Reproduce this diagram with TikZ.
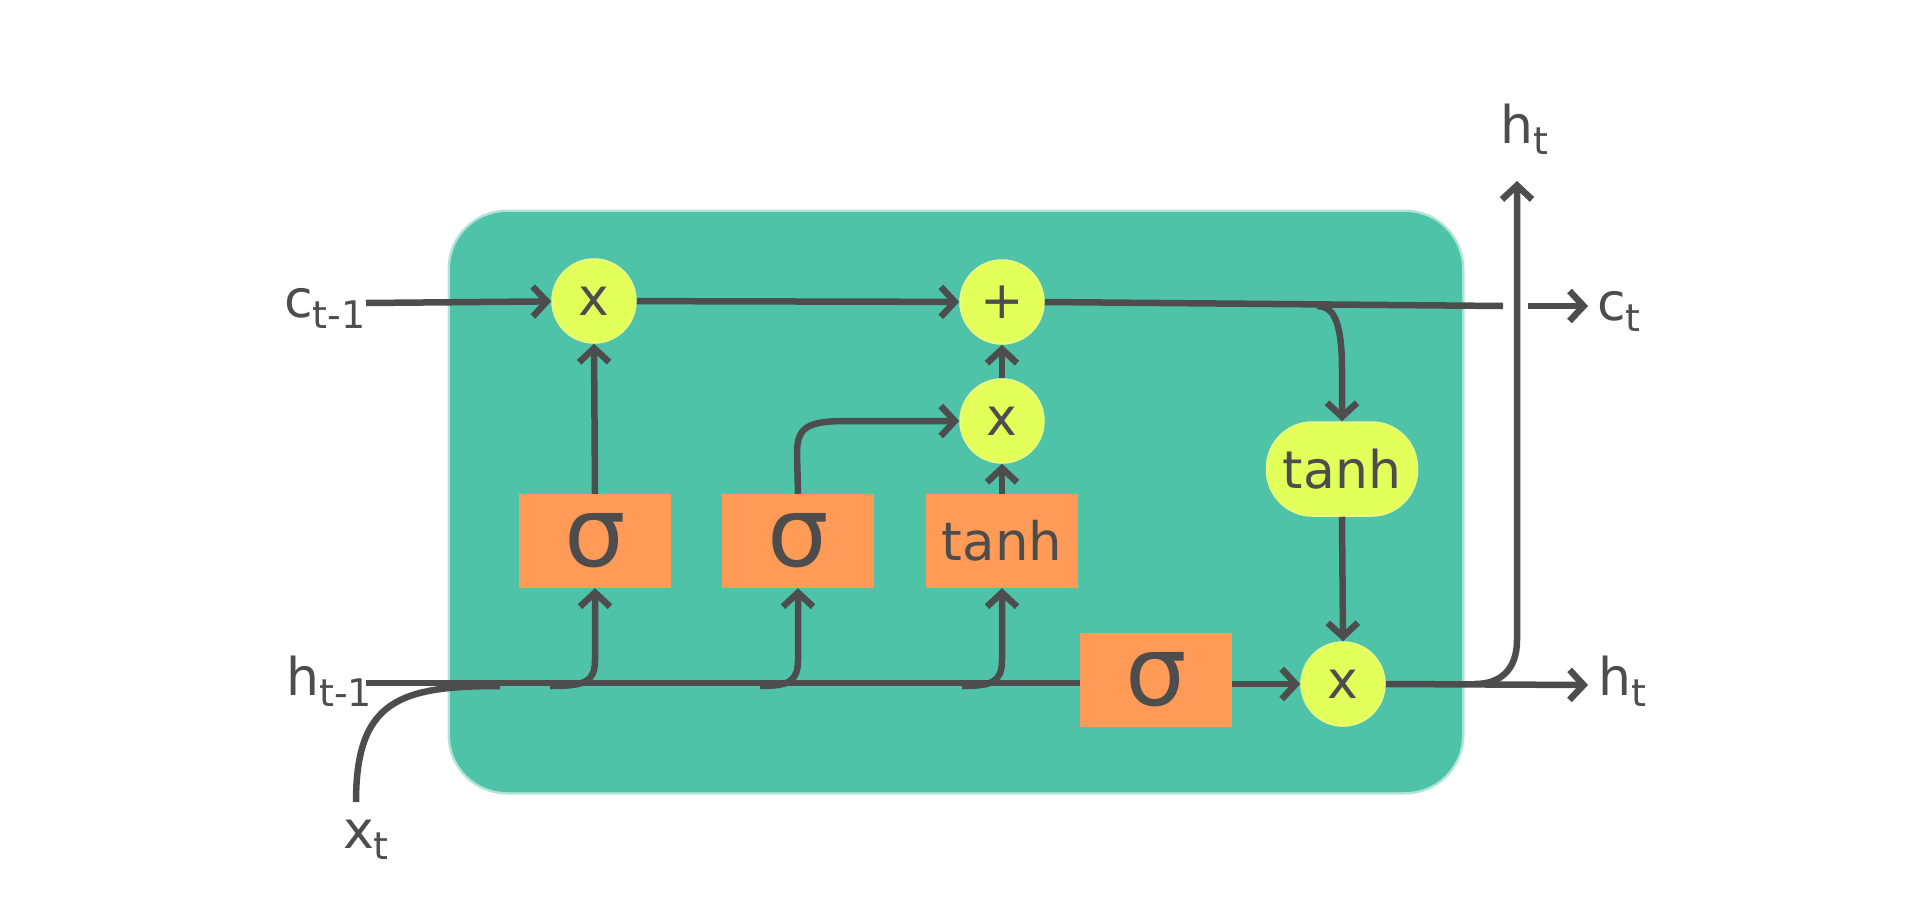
\documentclass[tikz,border=0pt]{standalone}
\usepackage{fontspec}
\setmainfont{DejaVu Sans}
\usetikzlibrary{arrows.meta}
\definecolor{cteal}{RGB}{79,195,167}
\definecolor{cyel}{RGB}{226,255,90}
\definecolor{corg}{RGB}{255,154,87}
\definecolor{cdark}{RGB}{77,77,77}
\newcommand\lblsub[2]{#1\raisebox{-11pt}{\fontsize{38}{40}\selectfont #2}}
\begin{document}
\begin{tikzpicture}[x=1pt,y=-1pt,
  lbl/.style={inner sep=0pt, text=cdark, font=\fontsize{52}{60}\selectfont},
  opcircle/.style={circle, fill=cyel, minimum size=84pt, inner sep=0pt, text=cdark, font=\fontsize{52}{60}\selectfont, draw=cyel!75!white, line width=1.5pt},
  gatebox/.style={rectangle, fill=corg, minimum width=152pt, minimum height=94pt, inner sep=0pt, text=cdark},
  sigtxt/.style={font=\fontsize{97}{100}\selectfont},
  tanhtxt/.style={font=\fontsize{53}{60}\selectfont},
  pill/.style={rectangle, rounded corners=46pt, fill=cyel, draw=cyel!75!white, line width=1.5pt, minimum width=151pt, minimum height=94pt, inner sep=0pt, text=cdark, font=\fontsize{52}{60}\selectfont},
  wire/.style={draw=cdark, line width=6.5pt},
  arr/.style={wire, -{Straight Barb[length=14pt,width=30pt]}},
]
\useasboundingbox (0,0) rectangle (1920,910);
\fill[white] (0,0) rectangle (1920,910);
% cell body
\draw[cteal!45!white, line width=5pt, rounded corners=57pt] (450,212) rectangle (1462,792);
\fill[cteal, rounded corners=57pt] (450,212) rectangle (1462,792);

% nodes
\node[opcircle] (x1) at (594,301) {x};
\node[opcircle] (plus) at (1002,302) {+};
\node[opcircle] (xm) at (1002,421) {x};
\node[gatebox, sigtxt] (sig1) at (595,541) {σ};
\node[gatebox, sigtxt] (sig2) at (798,541) {σ};
\node[gatebox, tanhtxt] (tanhO) at (1002,541) {tanh};
\node[gatebox, sigtxt] (sig3) at (1156,680) {σ};
\node[pill] (tanhP) at (1342,469) {tanh};
\node[opcircle] (xo) at (1343,684) {x};

% labels
\node[lbl, anchor=base west] (cprev) at (284,317) {\lblsub{c}{t-1}};
\node[lbl, anchor=base west] (hprev) at (286,695) {\lblsub{h}{t-1}};
\node[lbl, anchor=base west] (xt) at (343,848) {\lblsub{x}{t}};
\node[lbl, anchor=base west] (ctl) at (1597,320) {\lblsub{c}{t}};
\node[lbl, anchor=base west] (htr) at (1598,695) {\lblsub{h}{t}};
\node[lbl, anchor=base west] (htop) at (1500,143) {\lblsub{h}{t}};

% coordinates
\coordinate (cstart) at (366,303);
\coordinate (hstart) at (366,683);
\coordinate (xstart) at (356,802);
\coordinate (cgapL) at (1503,306);
\coordinate (cgapR) at (1528,306);
\coordinate (cend) at (1588,306);
\coordinate (hend) at (1588,685);
\coordinate (htopend) at (1517,181);
\coordinate (b1) at (550,686);
\coordinate (b2) at (760,686);
\coordinate (b3) at (962,686);
\coordinate (bt) at (1317,306);
\coordinate (bh) at (1475,684);

% cell state line
\draw[arr] (cstart) -- (x1);
\draw[arr] (x1) -- (plus);
\draw[wire] (plus.east) -- (cgapL);
\draw[arr] (cgapR) -- (cend);
\draw[arr] (bt) .. controls (1332,306) and (1342,318) .. (1342,370) -- (tanhP.north);

% hidden state line
\draw[wire] (hstart) -- (sig3.west |- hstart);
\draw[wire] (xstart) .. controls (356,700) and (400,686) .. (500,686);
\draw[arr] (b1) .. controls (585,686) and (595,682) .. (595,660) -- (sig1.south);
\draw[arr] (b2) .. controls (788,686) and (798,682) .. (798,660) -- (sig2.south);
\draw[arr] (b3) .. controls (992,686) and (1002,682) .. (1002,660) -- (tanhO.south);

% gates
\draw[arr] (sig1.north) -- (x1.south);
\draw[arr] (sig2.north) -- (797,453) .. controls (797,425) and (810,421) .. (850,421) -- (xm.west);
\draw[arr] (tanhO.north) -- (xm.south);
\draw[arr] (xm.north) -- (plus.south);
\draw[arr] (tanhP.south) -- (xo.north);
\draw[arr] (sig3.east |- xo.west) -- (xo.west);
\draw[arr] (xo.east) -- (hend);
\draw[arr] (bh) .. controls (1500,684) and (1517,670) .. (1517,640) -- (htopend);
\end{tikzpicture}
\end{document}
